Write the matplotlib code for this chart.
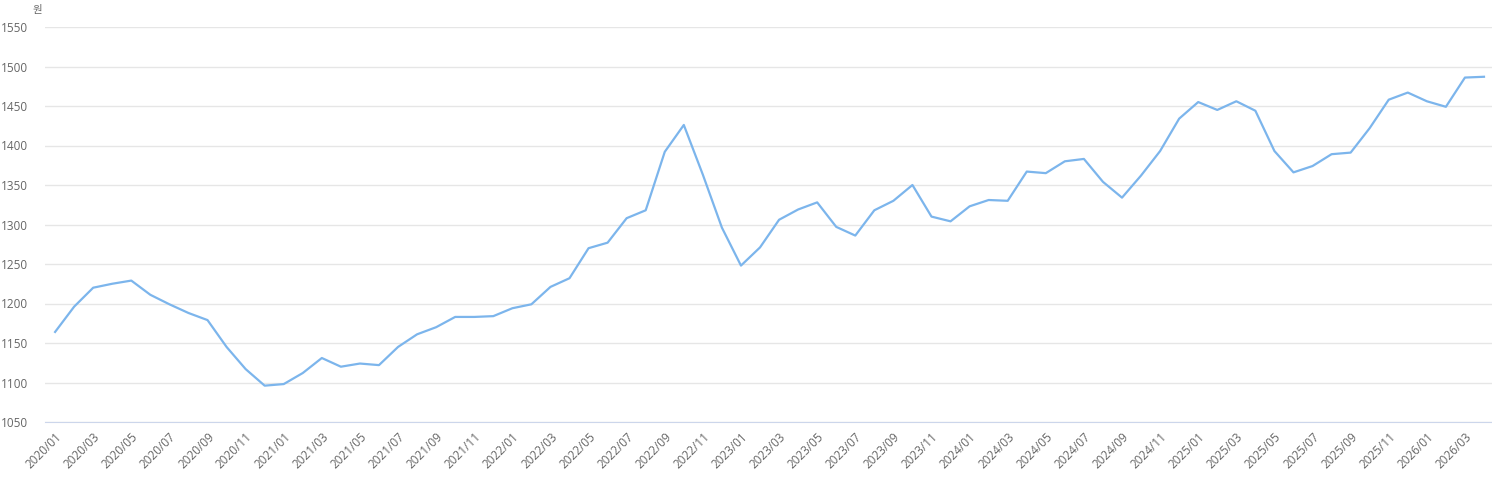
import matplotlib.pyplot as plt
import numpy as np

# monthly values, 2020/01 .. 2026/04
months = ['%d/%02d' % (y, m) for y in range(2020, 2027) for m in range(1, 13)][:76]

values = [1164, 1196, 1220, 1225, 1229, 1211, 1199, 1188, 1179, 1145, 1117, 1096,
          1098, 1112, 1131, 1120, 1124, 1122, 1145, 1161, 1170, 1183, 1183, 1184,
          1194, 1199, 1221, 1232, 1270, 1277, 1308, 1318, 1392, 1426, 1363, 1296,
          1248, 1271, 1306, 1319, 1328, 1297, 1286, 1318, 1330, 1350, 1310, 1304,
          1323, 1331, 1330, 1367, 1365, 1380, 1383, 1354, 1334, 1362, 1393, 1434,
          1455, 1445, 1456, 1444, 1393, 1366, 1374, 1389, 1391, 1422, 1458, 1467,
          1456, 1449, 1486, 1487]

yticks = [1050, 1100, 1150, 1200, 1250, 1300, 1350, 1400, 1450, 1500, 1550]

plt.rcParams['font.family'] = ['Open Sans', 'Noto Sans CJK KR', 'DejaVu Sans']

fig = plt.figure(figsize=(14.92, 4.84), dpi=100)
ax = fig.add_axes([45 / 1492, 62 / 484, 1 - 45 / 1492, 395 / 484])

x = np.arange(len(values))
ax.plot(x, values, color='#7cb5ec', linewidth=1.6, solid_joinstyle='round')

ax.set_ylim(1050, 1550)
ax.set_xlim(-0.53, 75.42)
ax.set_yticks(yticks)
ax.set_xticks(x[::2])
ax.set_xticklabels(months[::2], rotation=45, ha='right', rotation_mode='anchor')

ax.grid(axis='y', color='#e6e6e6', linewidth=1)
ax.set_axisbelow(True)
for s in ['top', 'right', 'left']:
    ax.spines[s].set_visible(False)
ax.spines['bottom'].set_color('#ccd6eb')
ax.tick_params(axis='both', length=0, labelsize=8.5, colors='#666666')
ax.tick_params(axis='y', pad=12)
ax.tick_params(axis='x', pad=6)

fig.text(37 / 1492, 1 - 10 / 484, '원', fontsize=7.5, color='#666666',
         ha='center', va='center')

fig.savefig('out.png', dpi=100, facecolor='white')
